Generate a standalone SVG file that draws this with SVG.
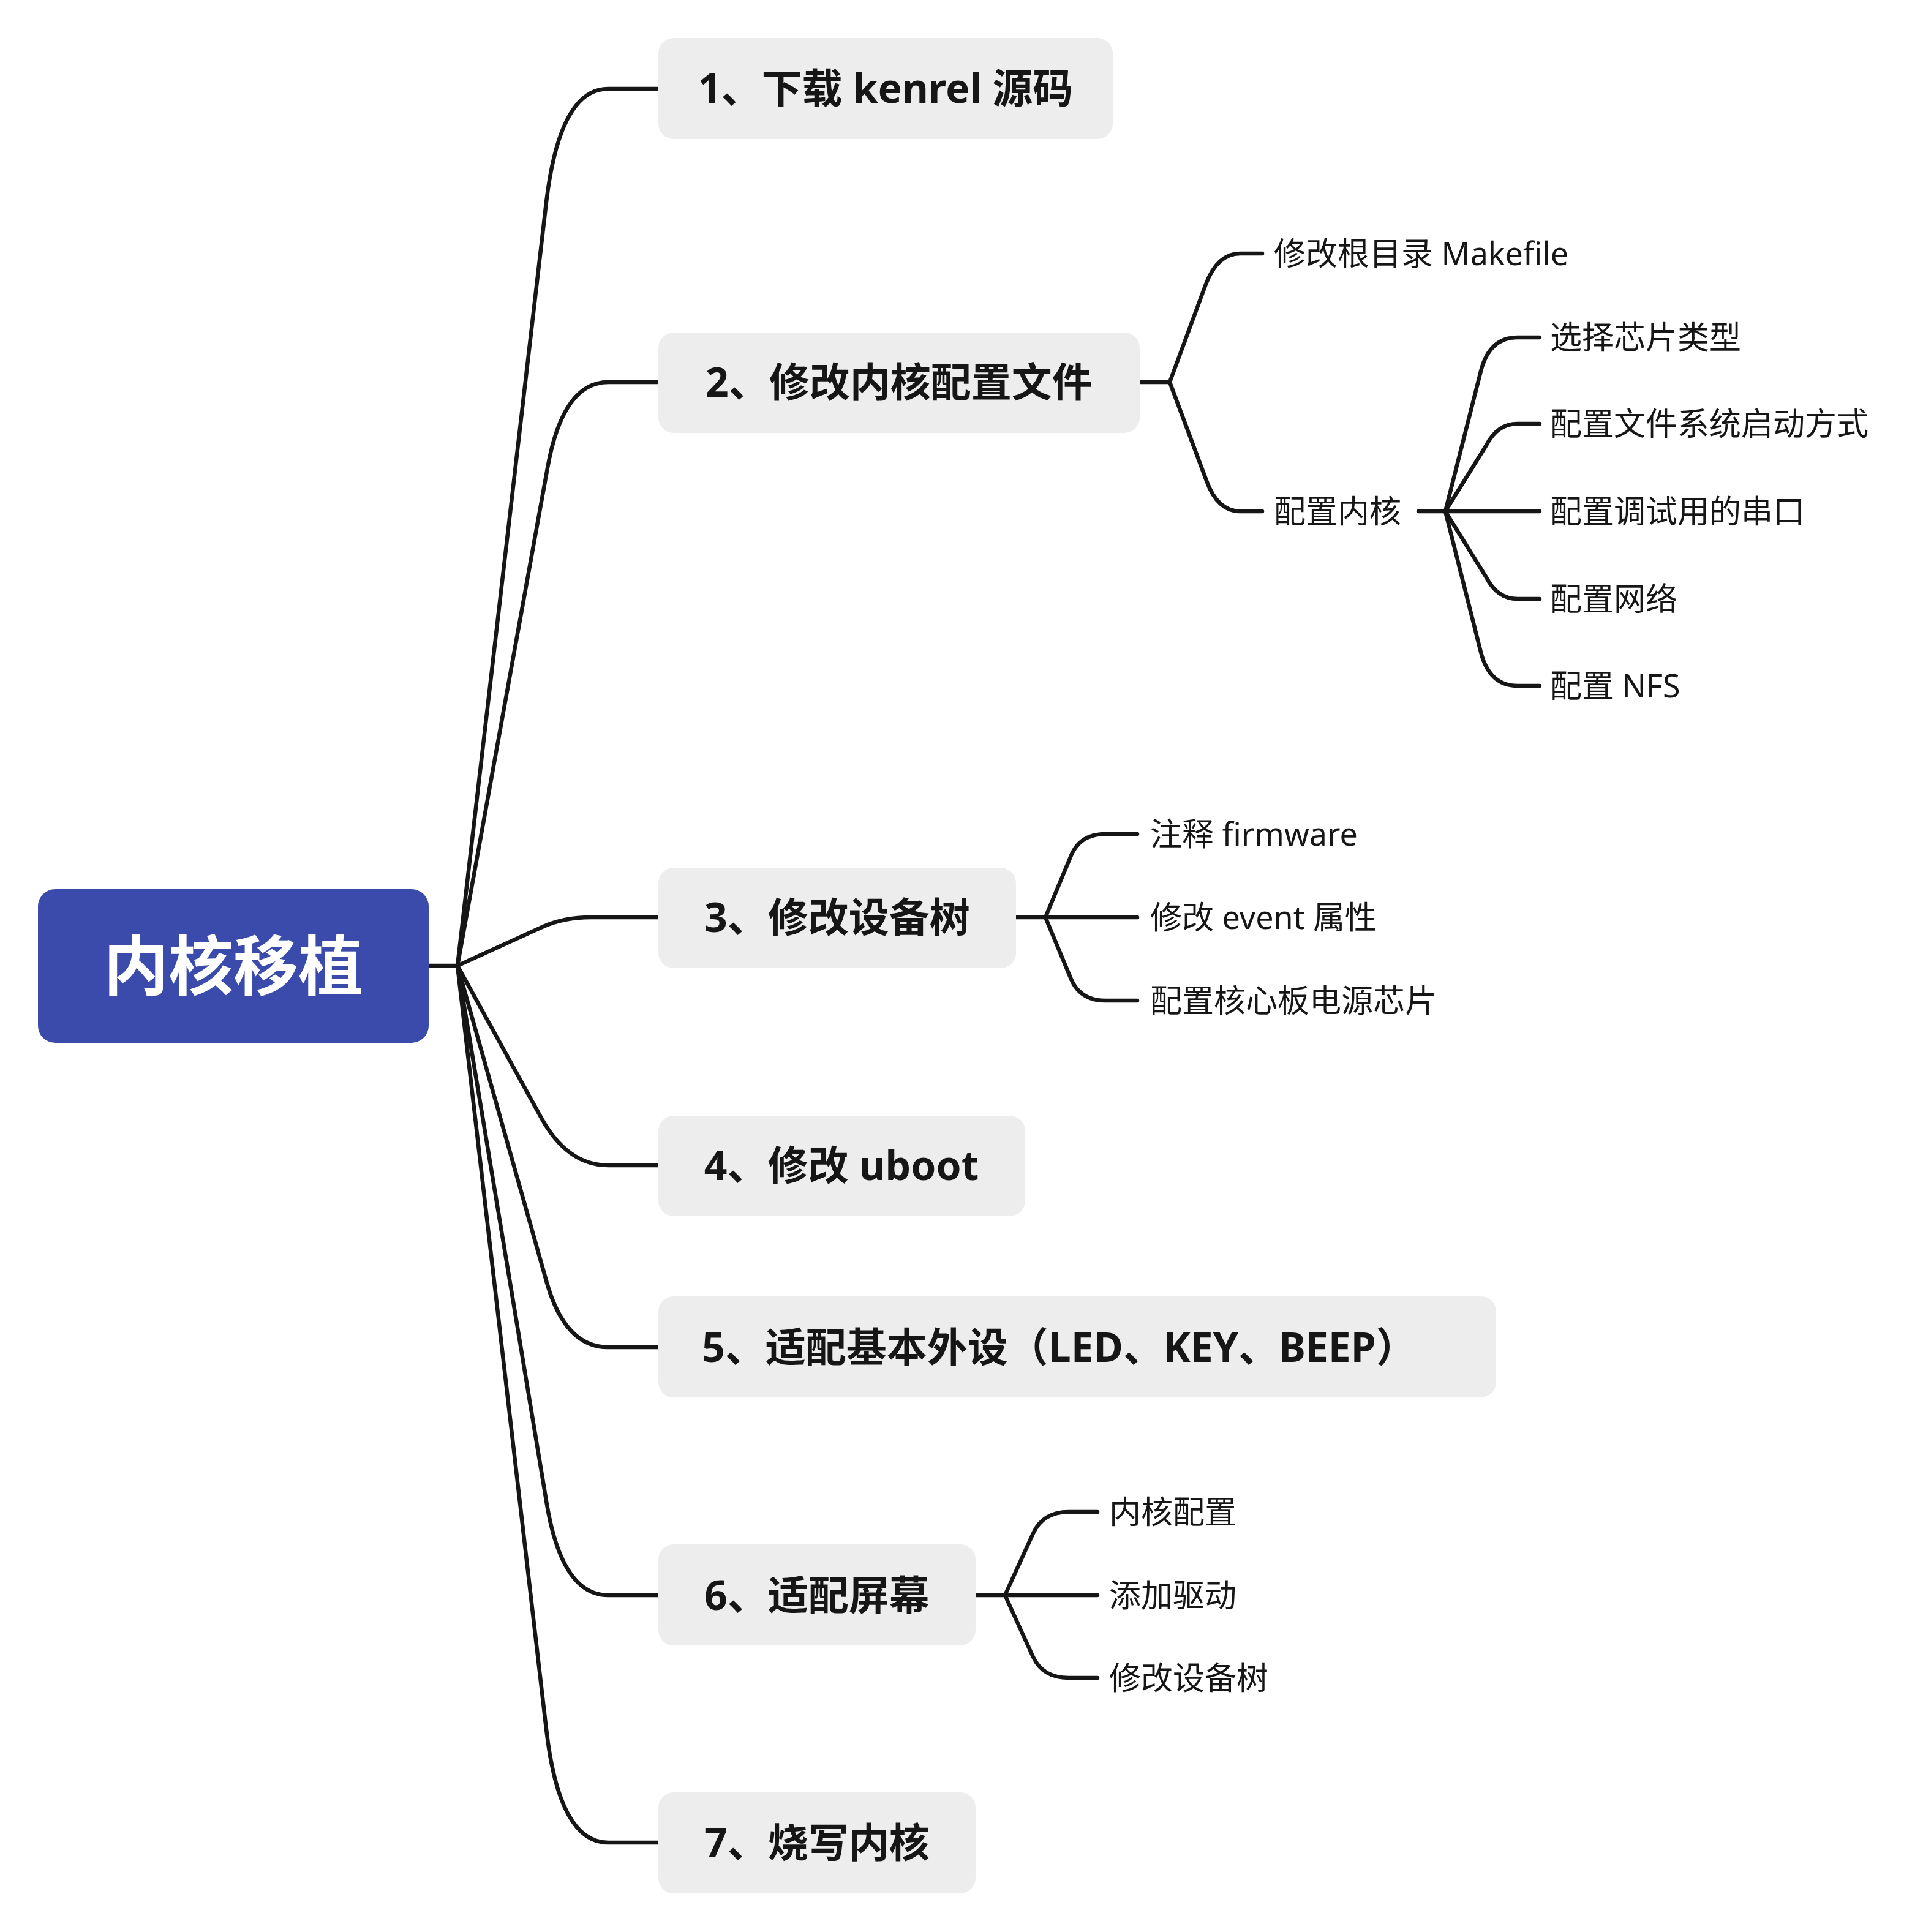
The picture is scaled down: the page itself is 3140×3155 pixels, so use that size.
<svg xmlns="http://www.w3.org/2000/svg" width="3140" height="3155" viewBox="0 0 3140 3155">
<style>
.bg{fill:#ffffff}
.root{fill:#3A4BAB}
.box{fill:#EDEDED}
.rt{font-family:"Noto Sans","Noto Sans CJK SC",sans-serif;font-weight:700;font-size:106px;fill:#ffffff;text-anchor:middle}
.mt{font-family:"Noto Sans","Noto Sans CJK SC",sans-serif;font-weight:700;font-size:66px;fill:#161616;text-anchor:middle}
.ms{font-family:"Noto Sans","Noto Sans CJK SC",sans-serif;font-weight:700;font-size:66px;fill:#161616;text-anchor:start}
.st{font-family:"Noto Sans","Noto Sans CJK SC",sans-serif;font-weight:400;font-size:52px;fill:#161616}
.ln{fill:none;stroke:#161616;stroke-width:6.5;stroke-linecap:round;stroke-linejoin:round}
</style>
<rect class="bg" x="0" y="0" width="3140" height="3155"/>
<g id="connectors">
  <path class="ln" d="M700 1577 H747"/>
  <path class="ln" d="M747 1577 L892 330 Q914 145 993 145 H1075"/>
  <path class="ln" d="M747 1577 L894 764 Q919 624 993 624 H1075"/>
  <path class="ln" d="M747 1577 L885 1514 Q920 1498 965 1498 H1075"/>
  <path class="ln" d="M747 1577 L883 1824 Q926 1903 993 1903 H1075"/>
  <path class="ln" d="M747 1577 L893 2095 Q923 2200 993 2200 H1075"/>
  <path class="ln" d="M747 1577 L893 2457 Q918 2605 993 2605 H1075"/>
  <path class="ln" d="M747 1577 L892 2824 Q913 3009 993 3009 H1075"/>
  <path class="ln" d="M1861 624 H1910"/>
  <path class="ln" d="M1910 624 L1969 464 Q1988 414 2025 414 H2061"/>
  <path class="ln" d="M1910 624 L1970 785 Q1988 835 2025 835 H2061"/>
  <path class="ln" d="M2316 835 H2360"/>
  <path class="ln" d="M2360 835 L2418 606 Q2432 551 2478 551 H2514"/>
  <path class="ln" d="M2360 835 L2427 727 Q2445 692 2478 692 H2514"/>
  <path class="ln" d="M2360 835 H2514"/>
  <path class="ln" d="M2360 835 L2427 943 Q2445 978 2478 978 H2514"/>
  <path class="ln" d="M2360 835 L2418 1065 Q2432 1120 2478 1120 H2514"/>
  <path class="ln" d="M1659 1498 H1707"/>
  <path class="ln" d="M1707 1498 L1749 1397 Q1764 1362 1805 1362 H1857"/>
  <path class="ln" d="M1707 1498 H1857"/>
  <path class="ln" d="M1707 1498 L1749 1599 Q1764 1634 1805 1634 H1857"/>
  <path class="ln" d="M1593 2605 H1641"/>
  <path class="ln" d="M1641 2605 L1687 2504 Q1703 2469 1745 2469 H1792"/>
  <path class="ln" d="M1641 2605 H1792"/>
  <path class="ln" d="M1641 2605 L1687 2706 Q1703 2740 1745 2740 H1792"/>
</g>
<g id="root">
  <rect class="root" x="62" y="1452" width="638" height="251" rx="28"/>
  <text class="rt" x="381" y="1616">内核移植</text>
</g>
<g id="n1">
  <rect class="box" x="1075" y="62" width="742" height="165" rx="25"/>
  <text class="mt" x="1446" y="168">1、下载 kenrel 源码</text>
</g>
<g id="n2">
  <rect class="box" x="1075" y="543" width="786" height="164" rx="25"/>
  <text class="mt" x="1468" y="648">2、修改内核配置文件</text>
</g>
<g id="n2a"><text class="st" x="2080" y="433">修改根目录 Makefile</text></g>
<g id="n2b"><text class="st" x="2080" y="854">配置内核</text></g>
<g id="n2b1"><text class="st" x="2531" y="570">选择芯片类型</text></g>
<g id="n2b2"><text class="st" x="2531" y="711">配置文件系统启动方式</text></g>
<g id="n2b3"><text class="st" x="2531" y="854">配置调试用的串口</text></g>
<g id="n2b4"><text class="st" x="2531" y="997">配置网络</text></g>
<g id="n2b5"><text class="st" x="2531" y="1139">配置 NFS</text></g>
<g id="n3">
  <rect class="box" x="1075" y="1417" width="584" height="164" rx="25"/>
  <text class="mt" x="1367" y="1522">3、修改设备树</text>
</g>
<g id="n3a"><text class="st" x="1878" y="1381">注释 firmware</text></g>
<g id="n3b"><text class="st" x="1878" y="1517">修改 event 属性</text></g>
<g id="n3c"><text class="st" x="1878" y="1653">配置核心板电源芯片</text></g>
<g id="n4">
  <rect class="box" x="1075" y="1822" width="599" height="164" rx="25"/>
  <text class="mt" x="1374" y="1927">4、修改 uboot</text>
</g>
<g id="n5">
  <rect class="box" x="1075" y="2117" width="1368" height="165" rx="25"/>
  <text class="ms" x="1146" y="2224">5、适配基本外设（LED、KEY、BEEP）</text>
</g>
<g id="n6">
  <rect class="box" x="1075" y="2522" width="518" height="165" rx="25"/>
  <text class="mt" x="1334" y="2629">6、适配屏幕</text>
</g>
<g id="n6a"><text class="st" x="1811" y="2488">内核配置</text></g>
<g id="n6b"><text class="st" x="1811" y="2624">添加驱动</text></g>
<g id="n6c"><text class="st" x="1811" y="2759">修改设备树</text></g>
<g id="n7">
  <rect class="box" x="1075" y="2927" width="518" height="165" rx="25"/>
  <text class="mt" x="1334" y="3033">7、烧写内核</text>
</g>
</svg>
